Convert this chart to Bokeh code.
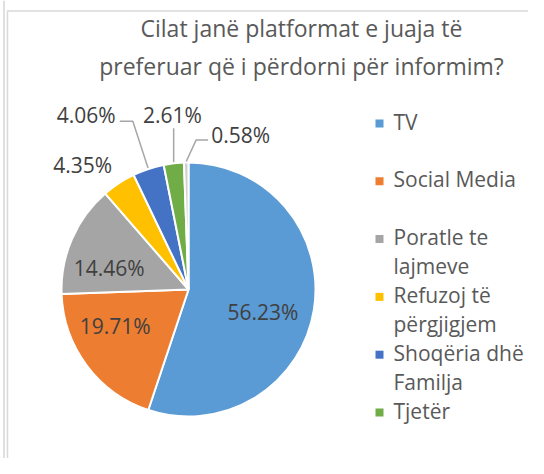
import math
import textwrap
from bokeh.plotting import figure
from bokeh.models import Range1d, ColumnDataSource
from bokeh.core.properties import value
from bokeh.embed import file_html
from bokeh.resources import INLINE

# ---------------- data ----------------
title_lines = ["Cilat janë platformat e juaja të", "preferuar që i përdorni për informim?"]
categories = ["TV", "Social Media", "Poratle te lajmeve", "Refuzoj të përgjigjem",
              "Shoqëria dhë Familja", "Tjetër", ""]
values = [56.23, 19.71, 14.46, 4.35, 4.06, 2.61, 0.58]
colors = ["#5B9BD5", "#ED7D31", "#A5A5A5", "#FFC000", "#4472C4", "#70AD47", "#D0D0D0"]

# ---------------- layout (screen pixels) ----------------
W, H = 528, 458
TEXT_DY = -8
def X(sx):
    return sx
def Y(sy):
    return H - sy
def TY(sy):
    return H - (sy + TEXT_DY)

CX, CY, R = 188, 289, 127
FONT = value("Open Sans")
LBL_PX = 21
# label placement: (angle offset from slice middle in degrees, radius in px)
label_place = [(8.0, 78), (10.0, 82), (-8.7, 82), (-7.2, 163), (-12.0, 202), (1.4, 175), (19.7, 163)]
leader_side = {4: "left", 5: "below", 6: "right"}

p = figure(width=W, height=H, x_range=Range1d(0, W), y_range=Range1d(0, H),
           output_backend="svg", toolbar_location=None, min_border=0,
           x_axis_type=None, y_axis_type=None)
p.grid.visible = False
p.outline_line_color = None
p.background_fill_color = "white"
p.border_fill_color = "white"

# chart border lines
p.line([3.5, 3.5], [0, Y(0)], line_color="#E0E0E0", line_width=2)
p.line([7, 7], [0, Y(10)], line_color="#D9D9D9", line_width=1.5)
p.line([7, W], [Y(10.5), Y(10.5)], line_color="#D9D9D9", line_width=1.5)

# wedges
total = sum(values)
cum = [0.0]
for v in values:
    cum.append(cum[-1] + v)
starts = [math.pi / 2 - 2 * math.pi * cum[i + 1] / total for i in range(len(values))]
ends = [math.pi / 2 - 2 * math.pi * cum[i] / total for i in range(len(values))]
src = ColumnDataSource(dict(start=starts, end=ends, color=colors))
p.wedge(x=X(CX), y=Y(CY), radius=R, start_angle="start", end_angle="end",
        fill_color="color", line_color="white", line_width=2, source=src)

# labels
lx, ly, lt = [], [], []
for i, v in enumerate(values):
    txt = f"{v:.2f}%"
    hw = (0.572 * (len(txt) - 2) + 0.267 + 0.838) * LBL_PX / 2
    mid = 360 * (cum[i] + cum[i + 1]) / 2 / total
    off, rad = label_place[i]
    a = math.radians(mid + off)
    sx = CX + rad * math.sin(a)
    sy = CY - rad * math.cos(a)
    lx.append(X(sx)); ly.append(TY(sy + 0.357 * LBL_PX)); lt.append(txt)
    if i in leader_side:
        am = math.radians(mid)
        s0 = (CX + (R + 1) * math.sin(am), CY - (R + 1) * math.cos(am))
        side = leader_side[i]
        if side == "left":
            e = (sx + hw + 4, sy + 6); el = (e[0] + 13, e[1])
        elif side == "right":
            e = (sx - hw - 3, sy + 5); el = (e[0] - 12, e[1])
        else:
            e = (s0[0], sy + 13); el = e
        pts = [s0, el, e]
        p.line([X(q[0]) for q in pts], [Y(q[1]) for q in pts],
               line_color="#A6A6A6", line_width=1.5)
p.text(x=lx, y=ly, text=lt, text_font=FONT, text_font_size=f"{LBL_PX}px",
       text_color="#404040", text_align="center", text_baseline="alphabetic")

# title
p.text(x=[X(301)] * 2, y=[TY(35), TY(73)], text=title_lines, text_font=FONT,
       text_font_size="23px", text_color="#595959", text_align="center",
       text_baseline="alphabetic")

# legend
gx, gy, gt = [], [], []
sqx, sqy, sqc = [], [], []
for i, name in enumerate(categories):
    if not name:
        continue
    base = 129 + i * 57.8
    for j, line in enumerate(textwrap.wrap(name, 12)):
        gx.append(X(393)); gy.append(TY(base + j * 29)); gt.append(line)
    sqx.append(X(379)); sqy.append(Y(base - 6)); sqc.append(colors[i])
p.rect(x=sqx, y=sqy, width=8, height=8, fill_color=sqc, line_color=None)
p.text(x=gx, y=gy, text=gt, text_font=FONT, text_font_size="21px",
       text_color="#595959", text_align="left", text_baseline="alphabetic")

open("out.html", "w").write(file_html(p, INLINE))
